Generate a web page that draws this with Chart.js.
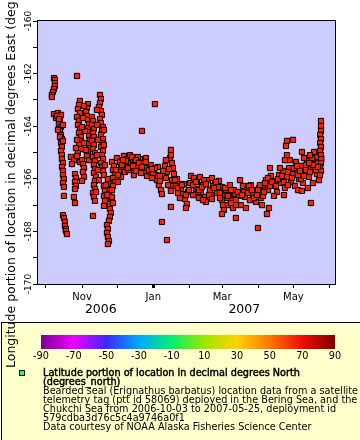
<!DOCTYPE html>
<html>
<head>
<meta charset="utf-8">
<title>Bearded seal 58069 longitude</title>
<script src="https://cdn.jsdelivr.net/npm/chart.js"></script>
<style>
  body { margin: 0; background: #fff; }
  canvas { display: block; }
</style>
</head>
<body>
<canvas id="trackChart" width="360" height="440"></canvas>
<script>
// x = days since 2006-10-01, y = longitude (degrees_east)
const fixDay = [
  6.9, 7.7, 7.7, 7.7, 6.9, 6.0, 5.1, 5.1,
  26.6,
  6.9, 10.3, 12.9, 8.6, 12.0, 11.1, 12.9, 12.0, 12.9, 13.7, 12.9, 13.7,
  12.9, 13.7, 13.7, 14.6, 13.7, 14.6, 14.6, 15.4, 14.6, 15.4,
  15.4,
  14.6, 15.4, 16.3, 16.3, 17.1, 17.1, 18.0,
  29.1, 28.3, 27.4, 29.1, 26.6, 28.3, 27.4, 29.1, 28.3, 30.0, 29.1, 28.3, 30.0, 27.4,
  21.4, 24.0, 26.6, 29.1, 22.3,
  24.9, 25.7, 24.9, 25.7, 24.9,
  24.0, 24.9,
  36.0, 35.1, 34.3, 35.1, 36.0, 36.9, 36.0, 37.7, 36.9, 37.7, 36.9, 37.7, 36.0, 35.1, 36.9,
  30.9, 31.7, 32.6, 31.7, 32.6, 30.9,
  39.4, 40.3, 39.4, 41.1, 40.3, 41.1, 39.4, 41.1, 40.3, 42.0, 40.3, 42.0, 41.1, 42.0, 41.1, 42.9, 42.0, 41.1, 42.0, 40.3, 41.1, 42.0,
  40.3,
  46.3, 47.1, 46.3, 45.4, 47.1, 48.0, 46.3, 47.1, 48.9, 48.0, 47.1, 48.9, 48.0, 47.1, 48.9, 48.0, 48.9, 47.1, 48.0, 48.9, 49.7,
  49.7, 50.6, 49.7, 50.6, 49.7,
  53.1, 54.0, 54.8, 54.0, 55.7, 54.8,
  54.8, 55.7, 54.8, 54.0, 52.3, 53.1, 52.3, 53.1, 54.0, 53.1,
  56.6, 57.4,
  56.6, 58.3, 57.4, 59.1, 57.4, 59.1, 57.4, 56.6, 60.8, 63.4, 64.3, 62.6, 64.3, 61.7,
  66.8, 69.4, 72.0, 70.3, 68.6, 72.8, 67.7, 74.6,
  65.1, 71.1, 75.4, 79.7, 84.0, 87.4, 73.7, 68.6,
  76.3, 78.0, 80.6, 83.1, 84.8, 77.1, 81.4, 85.7, 86.6, 78.8,
  82.3, 93.4,
  90.0, 92.6, 94.3, 95.1, 96.8, 98.6, 90.8, 96.0, 99.4, 89.1,
  102.0, 103.7, 106.3, 107.1, 107.1, 108.0, 108.8, 109.7, 108.0, 108.8, 107.1, 104.6, 102.8,
  99.4, 103.7, 107.1,
  112.3, 114.0, 115.7, 117.4, 119.1, 120.8, 114.8, 111.4, 118.3, 121.7, 120.0, 113.1,
  124.3,
  126.8, 129.4, 132.0, 134.5, 128.6, 132.8, 131.1, 136.3, 137.1, 126.0,
  138.8, 142.3, 144.8, 148.3, 150.8, 140.5, 146.5, 152.5, 143.1,
  150.8, 151.7, 152.5, 150.8,
  154.3, 156.8, 159.4, 156.0, 160.3, 162.0, 157.7,
  162.8, 166.3,
  168.8, 172.3, 175.7, 179.1, 182.5, 185.1, 170.5, 174.8, 180.0, 184.3, 167.1, 171.4, 177.4, 187.7,
  123.4, 130.3, 135.4, 141.4, 147.4, 155.1, 161.1, 165.4, 169.7, 174.0, 178.3, 181.7, 186.0,
  181.7, 185.1, 191.1, 189.4,
  186.0, 188.5, 190.3, 192.8, 194.5, 196.3, 198.0, 199.7, 201.4, 203.1, 204.8, 206.5, 208.3, 210.0,
  211.7, 213.4, 215.1, 216.8, 218.5, 220.2, 222.0, 223.7, 225.4, 227.1, 228.8, 230.5, 232.2, 234.0,
  231.4, 228.0, 222.8, 214.3, 209.1, 200.5, 192.0, 186.8, 195.4, 204.0, 216.0, 224.5, 218.5, 219.4,
  206.5, 211.7, 205.7, 206.5, 204.8, 219.4, 229.7, 192.0, 227.1, 233.1, 226.2, 221.1,
  235.7, 235.7, 235.7, 235.0, 235.7, 235.0, 235.7, 235.0, 235.7, 236.0, 235.7, 235.0, 235.7,
  9.4, 11.1, 14.6, 10.3, 12.0, 14.6,
  32.6, 31.7, 33.4, 30.9, 32.6, 34.3, 26.6, 25.7,
  43.7, 44.6, 43.7, 44.6, 42.9, 45.4, 49.7, 49.7, 50.6, 51.4, 52.3, 43.7,
  60.0, 61.7, 66.0, 70.3, 74.6, 77.1, 79.7, 82.3, 85.7, 88.3, 91.7, 93.4,
  96.0, 97.7, 100.3, 102.8, 105.4, 110.5, 113.1, 116.6, 120.0, 122.6, 97.7, 90.8,
  126.0, 128.6, 131.1, 133.7, 137.1, 139.7, 144.0, 145.7, 149.1, 153.4, 156.0, 158.5,
  162.8, 164.5, 168.0, 173.1, 176.5, 180.8, 183.4, 162.8, 158.5, 149.1, 142.3, 134.5,
  187.7, 190.3, 193.7, 197.1, 198.8, 202.3, 204.0, 207.4, 210.8, 212.5, 216.0,
  217.7, 221.1, 222.8, 226.2, 228.8, 231.4, 233.1, 234.8, 225.4, 215.1, 207.4
];
const fixLon = [
  -162.17, -162.24, -162.36, -162.47, -162.59, -162.70, -162.81, -162.89,
  -162.09,
  -163.54, -163.50, -163.57, -163.69, -163.76, -163.92, -164.03, -164.18, -164.33, -164.49, -164.64, -164.79,
  -164.94, -165.10, -165.25, -165.40, -165.55, -165.70, -165.86, -166.01, -166.16, -166.31,
  -166.65,
  -167.38, -167.49, -167.64, -167.79, -167.91, -167.98, -168.10,
  -163.04, -163.19, -163.35, -163.50, -163.65, -163.80, -163.95, -164.11, -164.26, -164.41, -164.56, -164.71, -164.87, -165.02,
  -165.17, -165.29, -165.13, -165.36, -165.44,
  -165.82, -165.97, -166.12, -166.27, -166.39,
  -166.69, -166.92,
  -163.16, -163.31, -163.46, -163.61, -163.76, -163.92, -164.07, -164.22, -164.37, -164.52, -164.68, -164.83, -164.98, -165.13, -165.29,
  -165.29, -165.44, -165.59, -165.74, -165.93, -166.08,
  -163.65, -163.80, -163.95, -164.11, -164.26, -164.41, -164.56, -164.71, -164.87, -165.02, -165.17, -165.32, -165.48, -165.63, -165.78, -165.93, -166.08, -166.24, -166.39, -166.54, -166.69, -166.84,
  -167.41,
  -162.81, -162.97, -163.12, -163.27, -163.42, -163.57, -163.73, -163.88, -164.03, -164.18, -164.33, -164.49, -164.64, -164.79, -164.94, -165.10, -165.25, -165.40, -165.55, -165.70, -165.86,
  -166.27, -166.46, -166.65, -166.84, -167.03,
  -166.01, -166.20, -166.39, -166.58, -166.77, -166.96,
  -167.15, -167.30, -167.45, -167.60, -167.76, -167.91, -168.06, -168.21, -168.37, -168.48,
  -166.69, -166.92,
  -165.36, -165.51, -165.67, -165.82, -165.97, -166.12, -166.27, -166.43, -165.21, -165.36, -165.55, -165.74, -165.93, -166.12,
  -165.13, -165.25, -165.10, -165.40, -165.55, -165.59, -165.74, -165.29,
  -165.48, -165.67, -165.86, -165.59, -165.74, -165.48, -165.17, -165.32,
  -165.36, -165.51, -165.25, -165.40, -165.59, -165.70, -165.78, -165.21, -165.89, -165.17,
  -164.18, -163.16,
  -165.48, -165.67, -165.86, -166.05, -166.24, -166.43, -165.97, -165.55, -166.58, -165.74,
  -165.51, -165.74, -165.21, -164.90, -165.10, -165.40, -165.59, -165.82, -166.05, -166.27, -166.46, -166.24, -165.97,
  -167.64, -168.33, -167.07,
  -166.01, -166.20, -166.39, -166.58, -166.77, -166.96, -166.73, -166.27, -166.20, -166.50, -167.11, -166.54,
  -165.89,
  -165.97, -166.12, -165.93, -166.24, -166.39, -166.54, -166.73, -166.69, -166.88, -166.62,
  -166.05, -165.97, -166.20, -166.08, -166.31, -166.43, -166.54, -166.65, -166.27,
  -166.81, -167.00, -167.19, -167.34,
  -166.43, -166.62, -166.81, -167.00, -167.11, -166.58, -166.24,
  -167.49, -166.05,
  -166.27, -166.43, -166.24, -166.50, -166.35, -166.54, -166.69, -166.81, -166.88, -166.73, -167.00, -167.11, -166.62, -166.35,
  -166.16, -166.50, -166.05, -166.62, -166.31, -166.73, -166.43, -166.65, -166.50, -166.27, -166.73, -166.43, -166.65,
  -167.87, -167.00, -167.11, -167.34,
  -166.24, -166.05, -166.43, -165.89, -166.24, -166.08, -166.50, -165.86, -166.16, -165.70, -166.35, -165.93, -165.59, -166.12,
  -165.82, -166.27, -165.67, -166.01, -165.51, -166.16, -165.78, -165.32, -165.93, -165.63, -166.16, -165.44, -165.82, -166.05,
  -165.17, -165.21, -165.48, -165.36, -165.29, -165.59, -166.27, -166.50, -166.65, -166.62, -166.43, -166.35, -166.01, -166.46,
  -164.56, -164.52, -164.75, -165.10, -165.29, -164.98, -164.98, -165.59, -166.92, -165.40, -165.10, -165.21,
  -163.80, -163.99, -164.18, -164.33, -164.49, -164.64, -164.79, -164.94, -165.10, -165.25, -165.40, -165.55, -165.70,
  -163.61, -163.73, -163.95, -164.14, -164.41, -164.56,
  -163.23, -163.69, -164.18, -164.03, -164.64, -164.90, -164.52, -164.83,
  -163.95, -164.52, -165.10, -165.67, -166.50, -166.05, -164.14, -164.71, -165.48, -166.24, -166.62, -163.38,
  -165.67, -165.86, -165.29, -165.59, -165.51, -165.29, -165.40, -165.55, -165.36, -165.67, -165.78, -165.59,
  -165.89, -166.08, -165.70, -165.29, -165.63, -166.05, -166.35, -166.24, -166.62, -166.43, -165.89, -165.63,
  -166.24, -166.12, -166.43, -166.31, -166.20, -166.62, -166.35, -166.12, -166.54, -166.35, -166.65, -166.43,
  -166.81, -166.50, -166.62, -166.54, -166.43, -166.62, -166.24, -167.00, -166.92, -166.73, -166.77, -166.81,
  -166.16, -165.97, -166.12, -166.27, -166.01, -165.89, -166.12, -165.74, -165.97, -165.59, -165.86,
  -165.70, -165.89, -165.67, -165.74, -165.48, -165.67, -165.55, -165.86, -165.40, -165.51, -166.24
];

// month starts (Oct 1 2006 .. Jun 1 2007), labelled every other month
const monthTickDays = [0, 31, 61, 92, 123, 151, 182, 212, 243];
const monthTickLabels = ['', 'Nov', '', 'Jan', '', 'Mar', '', 'May', ''];
const yearLabels = ['2006', '2007'];
const yearLabelDays = [47, 170];
const lonLabels = [-170, -168, -166, -164, -162, -160];

// colour bar (latitude)
const barLabels = [-90, -70, -50, -30, -10, 10, 30, 50, 70, 90];
const barColors = ['#7c0096', '#f000ff', '#3c28ff', '#00aaff', '#00f06e', '#a0e600', '#ffd200', '#ff7800', '#f00a00', '#800000'];

const legendTitle = ['Latitude portion of location in decimal degrees North', '(degrees_north)'];
const legendLines = [
  'Bearded seal (Erignathus barbatus) location data from a satellite',
  'telemetry tag (ptt id 58069) deployed in the Bering Sea, and the',
  'Chukchi Sea from 2006-10-03 to 2007-05-25, deployment id',
  '579cdba3d76c5c4a9746a0f1',
  'Data courtesy of NOAA Alaska Fisheries Science Center'
];
const yTitle = 'Longitude portion of location in decimal degrees East (degrees_east)';

const FONT = "'DejaVu Sans', sans-serif";

const decor = {
  id: 'decor',
  beforeDraw(chart) {
    const { ctx, chartArea: a } = chart;
    ctx.save();
    ctx.fillStyle = '#fff';
    ctx.fillRect(0, 0, chart.width, chart.height);
    ctx.fillStyle = '#ccccff';
    ctx.fillRect(a.left, a.top, a.right - a.left, a.bottom - a.top);
    ctx.restore();
  },
  afterDraw(chart) {
    const { ctx, chartArea: a } = chart;
    const xs = chart.scales.x, ys = chart.scales.y;
    ctx.save();

    // plot frame
    ctx.strokeStyle = '#000';
    ctx.lineWidth = 1;
    ctx.strokeRect(a.left - 0.5, a.top - 0.5, a.right - a.left + 1, a.bottom - a.top + 1);

    // year row under the month labels
    ctx.fillStyle = '#000';
    ctx.font = '12.5px ' + FONT;
    ctx.textAlign = 'center';
    ctx.textBaseline = 'middle';
    yearLabels.forEach((t, i) => ctx.fillText(t, xs.getPixelForValue(yearLabelDays[i]), a.bottom + 26));

    // legend box
    ctx.fillStyle = '#ffffcc';
    ctx.fillRect(1, 322, 400, 130);
    ctx.strokeRect(1.5, 322.5, 400, 130);

    // colour bar
    const bx0 = 41, bx1 = 335;
    const g = ctx.createLinearGradient(bx0, 0, bx1, 0);
    barColors.forEach((c, i) => g.addColorStop(i / (barColors.length - 1), c));
    ctx.fillStyle = g;
    ctx.fillRect(bx0, 335, bx1 - bx0, 14);
    ctx.fillStyle = '#000';
    ctx.font = '9.7px ' + FONT;
    barLabels.forEach(v => ctx.fillText(String(v), bx0 + (v + 90) / 180 * (bx1 - bx0), 356.5));

    // legend entry
    ctx.fillStyle = '#33ff33';
    ctx.fillRect(19.5, 370.5, 5, 5);
    ctx.strokeRect(19.5, 370.5, 5, 5);
    ctx.fillStyle = '#000';
    ctx.textAlign = 'left';
    ctx.textBaseline = 'alphabetic';
    ctx.font = '9.7px ' + FONT;
    ctx.lineWidth = 0.45;
    legendTitle.forEach((t, i) => {
      ctx.fillText(t, 43, 375.5 + i * 9);
      ctx.strokeText(t, 43, 375.5 + i * 9);
    });
    legendLines.forEach((t, i) => ctx.fillText(t, 43, 393.5 + i * 9));

    // y tick labels, rotated
    ctx.font = '9px ' + FONT;
    ctx.textAlign = 'center';
    ctx.textBaseline = 'middle';
    lonLabels.forEach(v => {
      ctx.save();
      ctx.translate(a.left - 9.5, ys.getPixelForValue(v));
      ctx.rotate(-Math.PI / 2);
      ctx.fillText(String(v), 0, 0);
      ctx.restore();
    });

    // y axis title, starts near the bottom and runs off the top
    ctx.font = '12.5px ' + FONT;
    ctx.textAlign = 'left';
    ctx.translate(12, 368);
    ctx.rotate(-Math.PI / 2);
    ctx.fillText(yTitle, 0, 0);
    ctx.restore();
  }
};

new Chart(document.getElementById('trackChart').getContext('2d'), {
  type: 'scatter',
  data: {
    datasets: [{
      data: fixDay.map((d, i) => ({ x: d, y: fixLon[i] })),
      pointStyle: 'rect',
      pointRadius: 3.7,
      pointBackgroundColor: '#ff2000',
      pointBorderColor: '#000',
      pointBorderWidth: 1
    }]
  },
  options: {
    responsive: false,
    animation: false,
    devicePixelRatio: 1,
    layout: { padding: { top: 21, right: 25, left: 0, bottom: 0 } },
    plugins: { legend: { display: false }, tooltip: { enabled: false } },
    scales: {
      x: {
        type: 'linear',
        min: -6.8,
        max: 247.7,
        afterBuildTicks: s => { s.ticks = monthTickDays.map(v => ({ value: v })); },
        afterFit: s => { s.height = 156; },
        border: { display: false },
        grid: {
          drawOnChartArea: false,
          tickLength: 4,
          color: '#000',
          lineWidth: c => (c.tick && c.tick.value === 92 ? 3 : 1)
        },
        ticks: {
          autoSkip: false,
          maxRotation: 0,
          padding: 3,
          color: '#000',
          font: { family: FONT, size: 10 },
          callback: (v, i) => monthTickLabels[i]
        }
      },
      y: {
        min: -170,
        max: -160,
        afterFit: s => { s.width = 38; },
        border: { display: false },
        grid: { drawOnChartArea: false, tickLength: 5, color: '#000' },
        ticks: { stepSize: 1, display: false }
      }
    }
  },
  plugins: [decor]
});
</script>
</body>
</html>
